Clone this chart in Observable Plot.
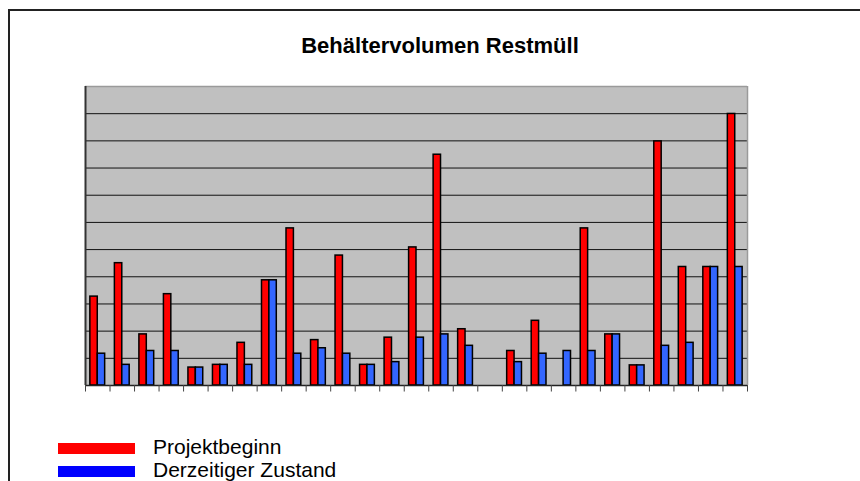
<!DOCTYPE html>
<html>
<head>
<meta charset="utf-8">
<script src="https://cdn.jsdelivr.net/npm/d3@7"></script>
<script src="https://cdn.jsdelivr.net/npm/@observablehq/plot@0.6"></script>
<style>
  html, body { margin: 0; padding: 0; background: #fff; width: 860px; height: 481px; overflow: hidden; }
  body { position: relative; font-family: "Liberation Sans", Arial, sans-serif; }
  #box { position: absolute; left: 8px; top: 9px; width: 900px; height: 520px; border-top: 2px solid #222; border-left: 2px solid #222; }
  #chart { position: absolute; left: 0; top: 0; }
  #title { position: absolute; left: 240px; width: 400px; top: 35px; text-align: center; font-weight: bold; font-size: 22px; line-height: 22px; color: #000; }
  .sw { position: absolute; left: 58px; width: 77px; height: 10.5px; }
  .lt { position: absolute; left: 153px; font-size: 21px; line-height: 21px; color: #000; white-space: nowrap; }
</style>
</head>
<body>
<div id="box"></div>
<div id="chart"></div>
<div id="title">Behältervolumen Restmüll</div>
<div class="sw" style="top:443px;background:#ff0000"></div>
<div class="lt" style="top:436px">Projektbeginn</div>
<div class="sw" style="top:466px;background:#0000ff"></div>
<div class="lt" style="top:459px">Derzeitiger Zustand</div>
<script>
const categories = ["1","2","3","4","5","6","7","8","9","10","11","12","13","14","15","16","17","18","19","20","21","22","23","24","25","26","27"];
const projektbeginn = [3.27, 4.5, 1.88, 3.36, 0.66, 0.76, 1.57, 3.87, 5.78, 1.67, 4.78, 0.76, 1.76, 5.08, 8.49, 2.07, 0, 1.27, 2.38, 0, 5.78, 1.88, 0.74, 8.98, 4.36, 4.36, 9.99];
const derzeitig = [1.17, 0.76, 1.27, 1.27, 0.66, 0.76, 0.76, 3.87, 1.17, 1.37, 1.17, 0.76, 0.86, 1.76, 1.88, 1.46, 0, 0.86, 1.17, 1.27, 1.27, 1.88, 0.74, 1.46, 1.57, 4.36, 4.36];
const gridValues = [1,2,3,4,5,6,7,8,9,10];
const yMax = 11;

const W = 860, H = 481, mL = 85, mR = 113, mT = 86, mB = 96;
const bw = (W - mL - mR) / categories.length;
const half = 7.4;

const red = categories.map((c, i) => ({cat: c, v: projektbeginn[i]})).filter(d => d.v > 0);
const blue = categories.map((c, i) => ({cat: c, v: derzeitig[i]})).filter(d => d.v > 0);

const plot = Plot.plot({
  width: W, height: H,
  marginLeft: mL, marginRight: mR, marginTop: mT, marginBottom: mB,
  x: {type: "band", domain: categories, padding: 0, round: false, axis: null},
  y: {domain: [0, yMax], axis: null},
  style: {background: "transparent", overflow: "visible"},
  marks: [
    Plot.frame({fill: "#c0c0c0", stroke: "none"}),
    Plot.ruleY(gridValues, {stroke: "#111", strokeWidth: 1}),
    Plot.ruleY([yMax], {stroke: "#9a9a9a", strokeWidth: 1.5}),
    Plot.ruleX([categories[categories.length - 1]], {dx: bw / 2, y1: 0, y2: yMax, stroke: "#9a9a9a", strokeWidth: 1.5}),
    Plot.barY(red, {x: "cat", y: "v", fill: "#ff0000", stroke: "#000", strokeWidth: 1.5,
      insetLeft: bw / 2 - half, insetRight: bw / 2}),
    Plot.barY(blue, {x: "cat", y: "v", fill: "#3366ff", stroke: "#000", strokeWidth: 1.5,
      insetLeft: bw / 2, insetRight: bw / 2 - half}),
    Plot.ruleY([0], {stroke: "#222", strokeWidth: 1.5}),
    Plot.ruleX([categories[0]], {dx: -bw / 2, y1: 0, y2: yMax, stroke: "#333", strokeWidth: 2}),
    Plot.ruleX(categories, {x: d => d, dx: -bw / 2, y1: 0, y2: -0.24, stroke: "#444", strokeWidth: 1}),
    Plot.ruleX([categories[categories.length - 1]], {dx: bw / 2, y1: 0, y2: -0.24, stroke: "#444", strokeWidth: 1})
  ]
});
document.getElementById("chart").appendChild(plot);
</script>
</body>
</html>
